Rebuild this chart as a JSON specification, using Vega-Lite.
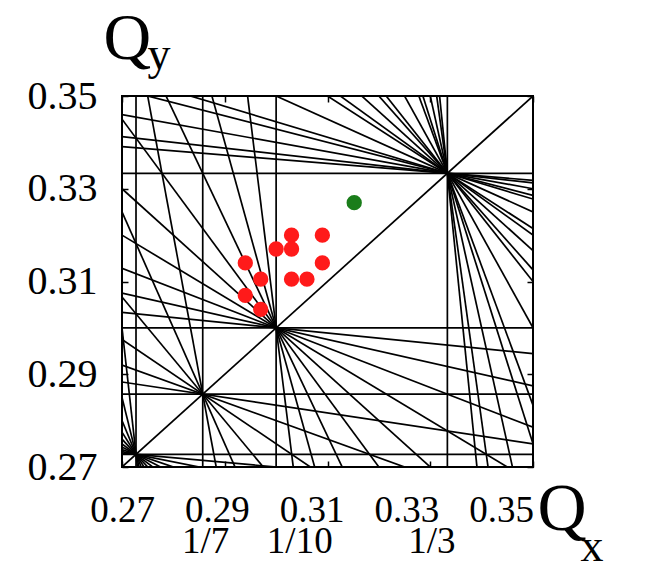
{
  "$schema": "https://vega.github.io/schema/vega-lite/v6.json",
  "autosize": {"type": "none"},
  "padding": {"left": 122, "top": 96, "right": 117, "bottom": 97},
  "width": 411,
  "height": 371,
  "background": "white",
  "config": {
    "view": {"stroke": "black", "strokeWidth": 2},
    "font": "Liberation Serif"
  },
  "datasets": {
    "lines": [
      {"x1": 0.272727, "y1": 0.27, "x2": 0.272727, "y2": 0.35},
      {"x1": 0.27, "y1": 0.272727, "x2": 0.35, "y2": 0.272727},
      {"x1": 0.285714, "y1": 0.27, "x2": 0.285714, "y2": 0.35},
      {"x1": 0.27, "y1": 0.285714, "x2": 0.35, "y2": 0.285714},
      {"x1": 0.3, "y1": 0.27, "x2": 0.3, "y2": 0.35},
      {"x1": 0.27, "y1": 0.3, "x2": 0.35, "y2": 0.3},
      {"x1": 0.333333, "y1": 0.27, "x2": 0.333333, "y2": 0.35},
      {"x1": 0.27, "y1": 0.333333, "x2": 0.35, "y2": 0.333333},
      {"x1": 0.27, "y1": 0.27, "x2": 0.35, "y2": 0.35},
      {"x1": 0.27, "y1": 0.365, "x2": 0.35, "y2": 0.325},
      {"x1": 0.27, "y1": 0.46, "x2": 0.35, "y2": 0.3},
      {"x1": 0.27, "y1": 0.346, "x2": 0.35, "y2": 0.33},
      {"x1": 0.27, "y1": 0.396667, "x2": 0.35, "y2": 0.316667},
      {"x1": 0.27, "y1": 0.65, "x2": 0.35, "y2": 0.25},
      {"x1": 0.27, "y1": 0.34125, "x2": 0.35, "y2": 0.33125},
      {"x1": 0.27, "y1": 0.351429, "x2": 0.35, "y2": 0.328571},
      {"x1": 0.27, "y1": 0.384, "x2": 0.35, "y2": 0.32},
      {"x1": 0.27, "y1": 0.4125, "x2": 0.35, "y2": 0.3125},
      {"x1": 0.27, "y1": 0.555, "x2": 0.35, "y2": 0.275},
      {"x1": 0.27, "y1": 0.84, "x2": 0.35, "y2": 0.2},
      {"x1": 0.27, "y1": 0.339091, "x2": 0.35, "y2": 0.331818},
      {"x1": 0.27, "y1": 0.354444, "x2": 0.35, "y2": 0.327778},
      {"x1": 0.27, "y1": 0.378571, "x2": 0.35, "y2": 0.321429},
      {"x1": 0.27, "y1": 0.422, "x2": 0.35, "y2": 0.31},
      {"x1": 0.27, "y1": 0.523333, "x2": 0.35, "y2": 0.283333},
      {"x1": 0.27, "y1": 1.03, "x2": 0.35, "y2": 0.15},
      {"x1": 0.27, "y1": 0.303333, "x2": 0.35, "y2": 0.294444},
      {"x1": 0.27, "y1": 0.3075, "x2": 0.35, "y2": 0.2875},
      {"x1": 0.27, "y1": 0.312857, "x2": 0.35, "y2": 0.278571},
      {"x1": 0.27, "y1": 0.32, "x2": 0.35, "y2": 0.266667},
      {"x1": 0.27, "y1": 0.33, "x2": 0.35, "y2": 0.25},
      {"x1": 0.27, "y1": 0.345, "x2": 0.35, "y2": 0.225},
      {"x1": 0.27, "y1": 0.37, "x2": 0.35, "y2": 0.183333},
      {"x1": 0.27, "y1": 0.42, "x2": 0.35, "y2": 0.1},
      {"x1": 0.27, "y1": 0.57, "x2": 0.35, "y2": -0.15},
      {"x1": 0.27, "y1": 0.288333, "x2": 0.35, "y2": 0.275},
      {"x1": 0.27, "y1": 0.292, "x2": 0.35, "y2": 0.26},
      {"x1": 0.27, "y1": 0.2975, "x2": 0.35, "y2": 0.2375},
      {"x1": 0.27, "y1": 0.306667, "x2": 0.35, "y2": 0.2},
      {"x1": 0.27, "y1": 0.325, "x2": 0.35, "y2": 0.125},
      {"x1": 0.27, "y1": 0.38, "x2": 0.35, "y2": -0.1},
      {"x1": 0.27, "y1": 0.273, "x2": 0.35, "y2": 0.265},
      {"x1": 0.27, "y1": 0.273333, "x2": 0.35, "y2": 0.255556},
      {"x1": 0.27, "y1": 0.27375, "x2": 0.35, "y2": 0.24375},
      {"x1": 0.27, "y1": 0.274286, "x2": 0.35, "y2": 0.228571},
      {"x1": 0.27, "y1": 0.275, "x2": 0.35, "y2": 0.208333},
      {"x1": 0.27, "y1": 0.276, "x2": 0.35, "y2": 0.18},
      {"x1": 0.27, "y1": 0.2775, "x2": 0.35, "y2": 0.1375},
      {"x1": 0.27, "y1": 0.28, "x2": 0.35, "y2": 0.066667},
      {"x1": 0.27, "y1": 0.285, "x2": 0.35, "y2": -0.075},
      {"x1": 0.27, "y1": 0.3, "x2": 0.35, "y2": -0.5}
    ],
    "scan": [
      {"Qx": 0.303, "Qy": 0.320},
      {"Qx": 0.309, "Qy": 0.320},
      {"Qx": 0.300, "Qy": 0.317},
      {"Qx": 0.303, "Qy": 0.317},
      {"Qx": 0.294, "Qy": 0.314},
      {"Qx": 0.309, "Qy": 0.314},
      {"Qx": 0.297, "Qy": 0.3105},
      {"Qx": 0.303, "Qy": 0.3105},
      {"Qx": 0.306, "Qy": 0.3105},
      {"Qx": 0.294, "Qy": 0.307},
      {"Qx": 0.297, "Qy": 0.304}
    ],
    "wp": [
      {"Qx": 0.3152, "Qy": 0.327}
    ]
  },
  "layer": [
    {
      "data": {"name": "lines"},
      "mark": {"type": "rule", "clip": true, "color": "black", "strokeWidth": 1.7},
      "encoding": {
        "x": {
          "field": "x1", "type": "quantitative",
          "scale": {"domain": [0.27, 0.35], "nice": false, "zero": false},
          "axis": {
            "orient": "bottom", "values": [0.27, 0.29, 0.31, 0.33, 0.35], "format": ".2f",
            "labelFont": "Liberation Serif", "labelFontSize": 37, "labelColor": "black",
            "labelFlush": false, "labelOverlap": false, "labelPadding": 31,
            "labelOffset": {"expr": "-400*(datum.value-0.27)"},
            "ticks": true, "tickSize": -6, "tickColor": "black", "tickWidth": 1.5,
            "domain": false, "grid": false,
            "title": "Q", "titleFont": "Liberation Serif", "titleFontSize": 68, "titleFontWeight": "normal", "titleColor": "black",
            "titleAlign": "left", "titleBaseline": "alphabetic", "titleAngle": 0, "titleX": 415, "titleY": 62
          }
        },
        "x2": {"field": "x2"},
        "y": {
          "field": "y1", "type": "quantitative",
          "scale": {"domain": [0.27, 0.35], "nice": false, "zero": false},
          "axis": {
            "orient": "left", "values": [0.27, 0.29, 0.31, 0.33, 0.35], "format": ".2f",
            "labelFont": "Liberation Serif", "labelFontSize": 40, "labelColor": "black",
            "labelFlush": false, "labelOverlap": false, "labelPadding": 31,
            "ticks": true, "tickSize": -6, "tickColor": "black", "tickWidth": 1.5,
            "domain": false, "grid": false,
            "title": "Q", "titleFont": "Liberation Serif", "titleFontSize": 66, "titleFontWeight": "normal", "titleColor": "black",
            "titleAlign": "left", "titleBaseline": "alphabetic", "titleAngle": 0, "titleX": -19, "titleY": -38
          }
        },
        "y2": {"field": "y2"}
      }
    },
    {
      "data": {"name": "scan"},
      "mark": {"type": "circle", "color": "#ff1a1a", "opacity": 1, "size": 235},
      "encoding": {
        "x": {
          "field": "Qx", "type": "quantitative",
          "scale": {"domain": [0.27, 0.35], "nice": false, "zero": false},
          "axis": {
            "orient": "top", "values": [0.27, 0.29, 0.31, 0.33, 0.35],
            "labels": false, "ticks": true, "tickSize": -6, "tickColor": "black", "tickWidth": 1.5,
            "domain": false, "grid": false,
            "title": "x", "titleFont": "Liberation Serif", "titleFontSize": 46, "titleFontWeight": "normal", "titleColor": "black",
            "titleAlign": "left", "titleBaseline": "alphabetic", "titleAngle": 0, "titleX": 458, "titleY": 464
          }
        },
        "y": {
          "field": "Qy", "type": "quantitative",
          "scale": {"domain": [0.27, 0.35], "nice": false, "zero": false},
          "axis": {
            "orient": "right", "values": [0.27, 0.29, 0.31, 0.33, 0.35],
            "labels": false, "ticks": true, "tickSize": -6, "tickColor": "black", "tickWidth": 1.5,
            "domain": false, "grid": false,
            "title": "y", "titleFont": "Liberation Serif", "titleFontSize": 46, "titleFontWeight": "normal", "titleColor": "black",
            "titleAlign": "left", "titleBaseline": "alphabetic", "titleAngle": 0, "titleX": -386, "titleY": -28
          }
        }
      }
    },
    {
      "data": {"name": "wp"},
      "mark": {"type": "circle", "color": "#1a7d1a", "opacity": 1, "size": 235},
      "encoding": {
        "x": {
          "field": "Qx", "type": "quantitative",
          "scale": {"domain": [0.27, 0.35], "nice": false, "zero": false},
          "axis": {
            "orient": "bottom", "values": [0.2862, 0.3045, 0.3302],
            "labelExpr": "datum.value < 0.29 ? '1/7' : (datum.value < 0.31 ? '1/10' : '1/3')",
            "labelFont": "Liberation Serif", "labelFontSize": 37, "labelColor": "black",
            "labelFlush": false, "labelOverlap": false, "labelPadding": 56,
            "ticks": false, "domain": false, "grid": false, "title": null
          }
        },
        "y": {
          "field": "Qy", "type": "quantitative",
          "scale": {"domain": [0.27, 0.35], "nice": false, "zero": false},
          "axis": null
        }
      }
    }
  ],
  "resolve": {"axis": {"x": "independent", "y": "independent"}}
}
